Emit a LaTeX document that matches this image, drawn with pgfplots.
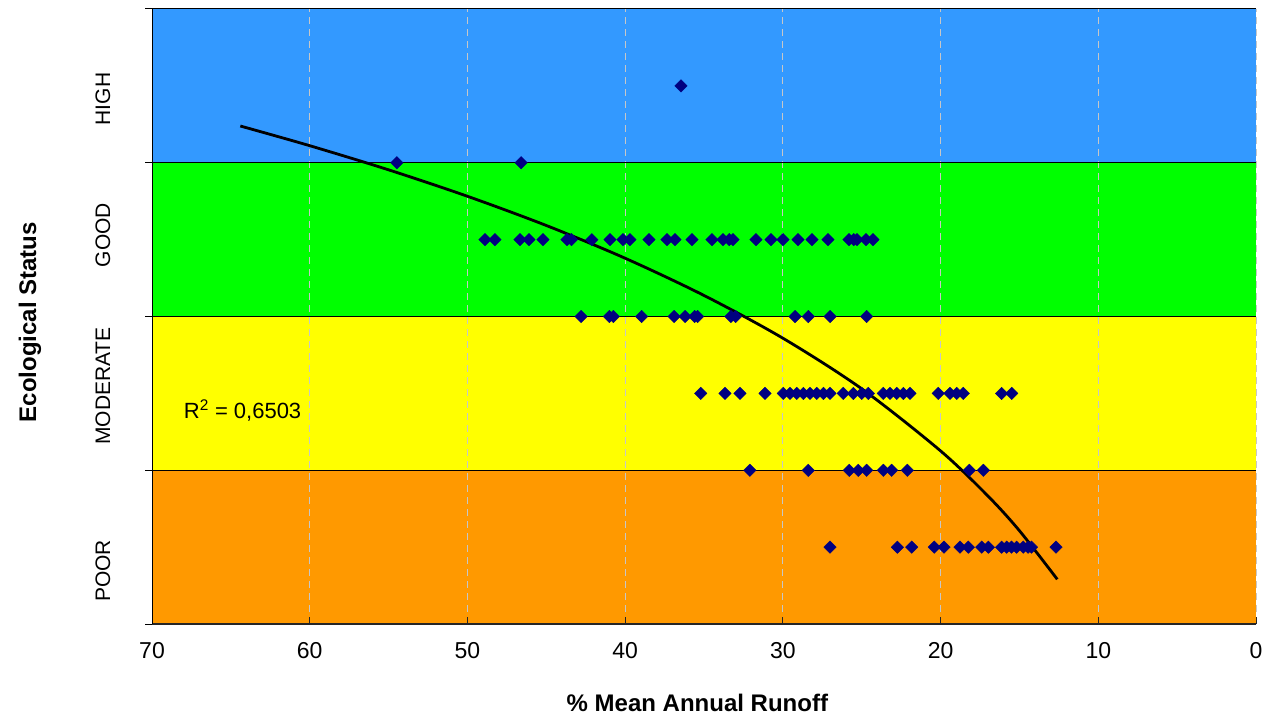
\documentclass[border=0pt]{standalone}
\usepackage{fontspec}
\setmainfont{Liberation Sans}
\usepackage{pgfplots}
\pgfplotsset{compat=1.18}
\definecolor{bandblue}{HTML}{3399FF}
\definecolor{bandgreen}{HTML}{00FF00}
\definecolor{bandyellow}{HTML}{FFFF00}
\definecolor{bandorange}{HTML}{FF9900}
\definecolor{navymark}{HTML}{000080}
\begin{document}
\begin{tikzpicture}
\begin{axis}[
  set layers,
  scale only axis, width=1104pt, height=615pt,
  xmin=0, xmax=70, ymin=0, ymax=4, x dir=reverse,
  axis x line*=bottom, axis y line*=left,
  x axis line style={draw=black!85, line width=2pt},
  y axis line style={draw=black, line width=1pt},
  xtick={0,10,...,70},
  ytick={0,1,2,3,4}, yticklabels={,,,,},
  tick align=outside, major tick length=7pt,
  x tick style={draw=black!85, line width=1pt, yshift=7pt},
  y tick style={draw=black, line width=1pt},
  xmajorgrids, ymajorgrids,
  x grid style={draw=black!22, line width=1pt, dash pattern=on 7pt off 5pt},
  y grid style={draw=black, line width=1pt},
  /pgf/number format/assume math mode=true,
  xticklabel style={font=\fontsize{23}{23}\selectfont, yshift=-8pt},
  xlabel={\% Mean Annual Runoff},
  xlabel style={font=\bfseries\fontsize{24}{24}\selectfont, at={(axis description cs:0.494,-0.128)}, anchor=center},
  ylabel={Ecological Status},
  ylabel style={font=\bfseries\fontsize{24}{24}\selectfont, at={(axis description cs:-0.1105,0.491)}, anchor=center, rotate=0},
  clip=false,
]
% colour bands
\addplot[draw=none, fill=bandblue, on layer=axis background] coordinates {(70,4) (0,4)} \closedcycle;
\addplot[draw=none, fill=bandgreen, on layer=axis background] coordinates {(70,3) (0,3)} \closedcycle;
\addplot[draw=none, fill=bandyellow, on layer=axis background] coordinates {(70,2) (0,2)} \closedcycle;
\addplot[draw=none, fill=bandorange, on layer=axis background] coordinates {(70,1) (0,1)} \closedcycle;

% observations
\addplot[only marks, mark=square*, mark size=4.4pt,
  mark options={rotate=45, fill=navymark, draw=navymark}] coordinates {
(36.46,3.5)
(54.47,3) (46.6,3)
(48.89,2.5) (48.26,2.5) (46.67,2.5) (46.10,2.5) (45.21,2.5) (43.69,2.5) (43.4,2.5) (42.11,2.5)
(40.96,2.5) (40.14,2.5) (39.70,2.5) (38.49,2.5) (37.35,2.5) (36.84,2.5) (35.76,2.5) (34.50,2.5)
(33.80,2.5) (33.40,2.5) (33.16,2.5) (31.71,2.5) (30.75,2.5) (29.99,2.5) (29.04,2.5) (28.15,2.5)
(27.14,2.5) (25.81,2.5) (25.50,2.5) (25.30,2.5) (24.73,2.5) (24.29,2.5)
(42.79,2) (41.0,2) (40.75,2) (38.95,2) (36.9,2) (36.2,2) (35.6,2) (35.4,2) (33.3,2) (33.0,2)
(29.23,2) (28.39,2) (27.01,2) (24.69,2)
(35.21,1.5) (33.67,1.5) (32.72,1.5) (31.13,1.5) (29.97,1.5) (29.55,1.5) (29.12,1.5) (28.70,1.5)
(28.28,1.5) (27.85,1.5) (27.43,1.5) (27.01,1.5) (26.17,1.5) (25.53,1.5) (25.0,1.5) (24.58,1.5)
(23.63,1.5) (23.21,1.5) (22.78,1.5) (22.36,1.5) (21.94,1.5) (20.15,1.5) (19.40,1.5) (18.98,1.5)
(18.56,1.5) (16.13,1.5) (15.49,1.5)
(32.09,1) (28.39,1) (25.79,1) (25.22,1) (24.69,1) (23.63,1) (23.10,1) (22.11,1) (18.18,1) (17.29,1)
(27.01,0.5) (22.74,0.5) (21.83,0.5) (20.40,0.5) (19.78,0.5) (18.77,0.5) (18.24,0.5) (17.39,0.5)
(16.97,0.5) (16.13,0.5) (15.81,0.5) (15.50,0.5) (15.18,0.5) (14.76,0.5) (14.45,0.5) (14.24,0.5)
(12.68,0.5)
};

% trend line
\addplot[black, line width=2.8pt, smooth] coordinates {
(64.4,3.239) (60,3.111) (55,2.954) (50,2.782) (45,2.592) (40,2.379) (35,2.137)
(30,1.859) (25,1.530) (20,1.126) (17,0.833) (15,0.607) (12.6,0.291)
};

\node[anchor=west, font=\fontsize{22}{22}\selectfont] at (axis cs:68.2,1.39) {R\textsuperscript{2} = 0,6503};

% category labels
\node[rotate=90, anchor=center, font=\fontsize{21}{21}\selectfont] at (axis description cs:-0.0444,0.0862) {POOR};
\node[rotate=90, anchor=center, font=\fontsize{21}{21}\selectfont] at (axis description cs:-0.0444,0.3870) {MODERATE};
\node[rotate=90, anchor=center, font=\fontsize{21}{21}\selectfont] at (axis description cs:-0.0444,0.6325) {GOOD};
\node[rotate=90, anchor=center, font=\fontsize{21}{21}\selectfont] at (axis description cs:-0.0444,0.8537) {HIGH};
\end{axis}
\pgfresetboundingbox
\path[use as bounding box] ([shift={(-152pt,-94pt)}]current axis.south west) rectangle ([shift={(15pt,9pt)}]current axis.north east);
\end{tikzpicture}
\end{document}
